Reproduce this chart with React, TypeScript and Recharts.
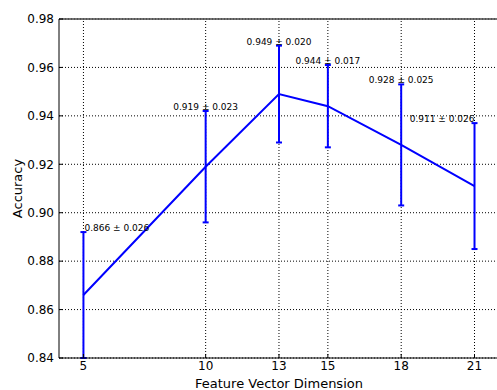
// App.tsx

import {
  ComposedChart,
  Line,
  XAxis,
  YAxis,
  CartesianGrid,
  ErrorBar,
  LabelList,
  ReferenceLine,
} from "recharts"

// dimensiones del vector de características (eje X)
const dims = [5, 10, 13, 15, 18, 21]
// exactitud media y desviación
const accuracy = [0.866, 0.919, 0.949, 0.944, 0.928, 0.911]
const deviation = [0.026, 0.023, 0.020, 0.017, 0.025, 0.026]

const xTicks = [5, 10, 13, 15, 18, 21]
const yTicks = [0.84, 0.86, 0.88, 0.9, 0.92, 0.94, 0.96, 0.98]

const font = "'DejaVu Sans', sans-serif"
const blue = "#0000ff"

const data = dims.map((d, i) => ({
  dim: d,
  acc: accuracy[i],
  err: deviation[i],
  top: accuracy[i] + deviation[i],
  note: `${accuracy[i].toFixed(3)} ± ${deviation[i].toFixed(3)}`,
}))

const notes = data.map(d => d.note)

function NoteLabel(props: any) {
  const { x, y, value } = props
  let idx = props.index
  if (idx === undefined) idx = notes.indexOf(value)
  const anchor = idx === 0 ? "start" : idx === notes.length - 1 ? "end" : "middle"
  return (
    <text
      x={idx === 0 ? x + 1 : x}
      y={y - 1}
      textAnchor={anchor}
      fontSize={9}
      fontFamily={font}
      fill="#000"
    >
      {value}
    </text>
  )
}

function YLabel(props: any) {
  const vb = props.viewBox
  const cx = vb.x + 17
  const cy = vb.y + vb.height / 2
  return (
    <text
      x={cx}
      y={cy}
      transform={`rotate(-90, ${cx}, ${cy})`}
      textAnchor="middle"
      dominantBaseline="central"
      fontSize={13}
      fontFamily={font}
      fill="#000"
    >
      Accuracy
    </text>
  )
}

export default function App() {
  return (
    <div
      style={{
        position: "absolute",
        left: 0,
        top: 0,
        width: 497,
        height: 390,
        overflow: "hidden",
        background: "#fff",
      }}
    >
      <ComposedChart
        width={497}
        height={390}
        data={data}
        margin={{ top: 19, right: 0, left: 0, bottom: 0 }}
      >
        <CartesianGrid stroke="#000" strokeDasharray="1 2" vertical={false} />
        {xTicks.map(t => (
          <ReferenceLine key={t} x={t} stroke="#000" strokeDasharray="1 2" />
        ))}
        <XAxis
          dataKey="dim"
          type="number"
          domain={[4, 21.92]}
          ticks={xTicks}
          allowDataOverflow
          height={32}
          stroke="#000"
          tickSize={-4}
          tickMargin={7}
          tick={{ fill: "#000", fontSize: 12, fontFamily: font }}
          label={{
            value: "Feature Vector Dimension",
            position: "insideBottom",
            offset: 2,
            dx: 1,
            style: { fill: "#000", fontSize: 13, fontFamily: font },
          }}
        />
        <YAxis
          type="number"
          domain={[0.84, 0.98]}
          ticks={yTicks}
          allowDataOverflow
          width={59}
          stroke="#000"
          tickSize={-4}
          tickMargin={9}
          tickFormatter={v => v.toFixed(2)}
          tick={{ fill: "#000", fontSize: 12, fontFamily: font }}
          label={<YLabel />}
        />
        <ReferenceLine y={0.98} stroke="#444" strokeWidth={1.5} />
        <Line
          type="linear"
          dataKey="acc"
          stroke={blue}
          strokeWidth={2}
          dot={false}
          isAnimationActive={false}
        >
          <ErrorBar
            dataKey="err"
            direction="y"
            width={3}
            stroke={blue}
            strokeWidth={2}
            isAnimationActive={false}
          />
        </Line>
        <Line
          type="linear"
          dataKey="top"
          stroke="none"
          dot={false}
          activeDot={false}
          isAnimationActive={false}
        >
          <LabelList dataKey="note" content={<NoteLabel />} />
        </Line>
      </ComposedChart>
    </div>
  )
}
